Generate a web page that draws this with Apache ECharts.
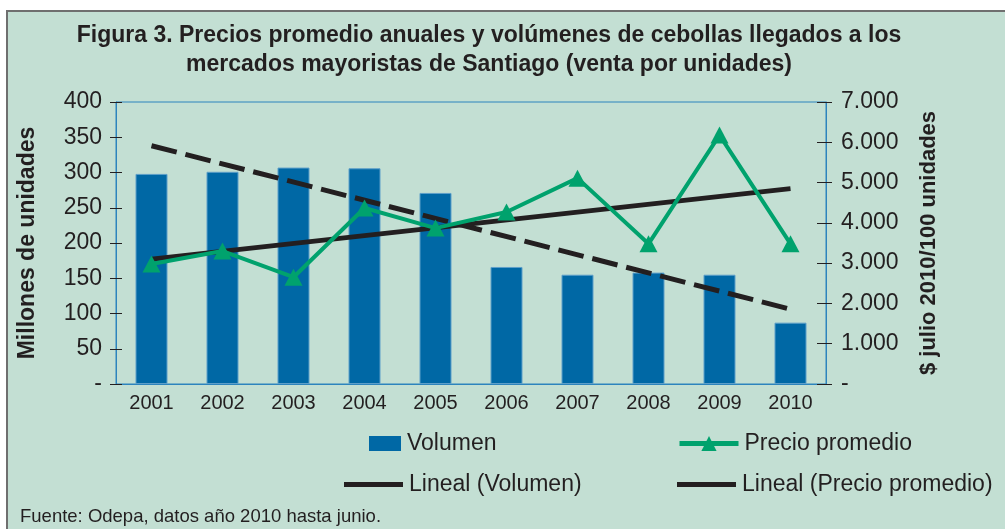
<!DOCTYPE html>
<html>
<head>
<meta charset="utf-8">
<script src="https://cdn.jsdelivr.net/npm/echarts@6/dist/echarts.min.js"></script>
<style>
  html, body { margin: 0; padding: 0; background: #fff; }
  #chart { width: 1005px; height: 529px; }
</style>
</head>
<body>
<div id="chart"></div>
<script>
// values
const years = ['2001', '2002', '2003', '2004', '2005', '2006', '2007', '2008', '2009', '2010'];
const volumen = [298, 301, 307, 306, 271, 166, 155, 158, 155, 87];
const precio = [2980, 3300, 2650, 4370, 3870, 4270, 5110, 3480, 6180, 3480];
// trend line end values (first and last year) as drawn in the figure
const volTrendEnds = [338, 106];
const precioTrendEnds = [3100, 4850];

const leftTicks = [0, 400, 50];
const rightTicks = [0, 7000, 1000];

const FONT = '"Liberation Sans", Arial, sans-serif';
const INK = '#231f20';
const BLUE = '#0068a5';
const GREEN = '#00a26d';
const AXIS_BLUE = '#2d84bd';

function endsOnly(ends) {
    return years.map((y, i) => i === 0 ? ends[0] : (i === years.length - 1 ? ends[1] : null));
}

function fmtMiles(v) {
    if (v === 0) return '-';
    return String(v).replace(/\B(?=(\d{3})+(?!\d))/g, '.');
}

const chart = echarts.init(document.getElementById('chart'));

const legendBase = {
    orient: 'horizontal',
    textStyle: { fontFamily: FONT, fontSize: 23, color: INK, padding: [0, 0, 0, 1] },
    selectedMode: false
};

chart.setOption({
    animation: false,
    backgroundColor: '#fff',
    graphic: [
        {
            type: 'rect', z: -10, silent: true,
            shape: { x: 7, y: 11, width: 1010, height: 530 },
            style: { fill: '#c3dfd3', stroke: '#6f6f6f', lineWidth: 2 }
        },
        {
            type: 'text', left: 20, top: 507,
            style: { text: 'Fuente: Odepa, datos año 2010 hasta junio.', fill: INK, font: '18.5px ' + FONT }
        }
    ],
    title: {
        text: 'Figura 3. Precios promedio anuales y volúmenes de cebollas llegados a los\nmercados mayoristas de Santiago (venta por unidades)',
        left: 484, top: 16, textAlign: 'center',
        textStyle: { fontFamily: FONT, fontSize: 23, fontWeight: 'bold', color: INK, lineHeight: 29 }
    },
    legend: [
        Object.assign({}, legendBase, {
            left: 364, top: 427, itemWidth: 32, itemHeight: 15,
            itemStyle: { borderWidth: 0 },
            data: [{ name: 'Volumen', icon: 'rect' }]
        }),
        Object.assign({}, legendBase, {
            left: 339, top: 468, itemWidth: 59, itemHeight: 5,
            data: [{ name: 'Lineal (Volumen)', icon: 'rect', itemStyle: { color: INK } }]
        }),
        Object.assign({}, legendBase, {
            left: 672, top: 427, itemWidth: 59, itemHeight: 19,
            lineStyle: { width: 5 },
            data: ['Precio promedio']
        }),
        Object.assign({}, legendBase, {
            left: 672, top: 468, itemWidth: 59, itemHeight: 5,
            data: [{ name: 'Lineal (Precio promedio)', icon: 'rect', itemStyle: { color: INK } }]
        })
    ],
    grid: {
        left: 116, right: 179, top: 102, bottom: 145,
        show: true, borderColor: AXIS_BLUE, borderWidth: 1, backgroundColor: 'transparent'
    },
    xAxis: [
        {
            type: 'category', data: years,
            axisLine: { lineStyle: { color: AXIS_BLUE, width: 1 } },
            axisTick: { length: 7, lineStyle: { color: INK } },
            axisLabel: { fontFamily: FONT, fontSize: 20, color: INK, margin: 9 }
        },
        {
            type: 'category', data: years, position: 'bottom',
            axisLine: { show: false },
            axisTick: { inside: true, length: 7, lineStyle: { color: INK } },
            axisLabel: { show: false }
        }
    ],
    yAxis: [
        {
            type: 'value', min: leftTicks[0], max: leftTicks[1], interval: leftTicks[2],
            position: 'left',
            splitLine: { show: false },
            axisLine: { show: true, lineStyle: { color: AXIS_BLUE } },
            axisTick: { show: true, length: 6, lineStyle: { color: INK } },
            axisLabel: { fontFamily: FONT, fontSize: 23, color: INK, margin: 14, formatter: fmtMiles },
            name: 'Millones de unidades', nameLocation: 'middle', nameRotate: 90, nameGap: 77,
            nameTextStyle: { fontFamily: FONT, fontSize: 23, fontWeight: 'bold', color: INK }
        },
        {
            type: 'value', min: rightTicks[0], max: rightTicks[1], interval: rightTicks[2],
            position: 'right',
            splitLine: { show: false },
            axisLine: { show: true, lineStyle: { color: AXIS_BLUE } },
            axisTick: { show: true, length: 6, lineStyle: { color: INK } },
            axisLabel: { fontFamily: FONT, fontSize: 23, color: INK, margin: 15, formatter: fmtMiles },
            name: '$ julio 2010/100 unidades', nameLocation: 'middle', nameRotate: 90, nameGap: 92,
            nameTextStyle: { fontFamily: FONT, fontSize: 22, fontWeight: 'bold', color: INK }
        },
        {
            type: 'value', min: leftTicks[0], max: leftTicks[1], interval: leftTicks[2],
            position: 'left',
            splitLine: { show: false }, axisLine: { show: false }, axisLabel: { show: false },
            axisTick: { show: true, inside: true, length: 6, lineStyle: { color: INK } }
        },
        {
            type: 'value', min: rightTicks[0], max: rightTicks[1], interval: rightTicks[2],
            position: 'right',
            splitLine: { show: false }, axisLine: { show: false }, axisLabel: { show: false },
            axisTick: { show: true, inside: true, length: 9, lineStyle: { color: INK } }
        }
    ],
    series: [
        {
            name: 'Volumen', type: 'bar', yAxisIndex: 0, data: volumen,
            barWidth: 32, z: 1,
            itemStyle: { color: BLUE, borderColor: '#5d9fc9', borderWidth: 1 }
        },
        {
            name: 'Lineal (Volumen)', type: 'line', yAxisIndex: 0, data: endsOnly(volTrendEnds),
            connectNulls: true, showSymbol: false, symbol: 'none', z: 3,
            lineStyle: { color: INK, width: 5, type: [26, 9], cap: 'butt' },
            itemStyle: { color: INK }
        },
        {
            name: 'Lineal (Precio promedio)', type: 'line', yAxisIndex: 1, data: endsOnly(precioTrendEnds),
            connectNulls: true, showSymbol: false, symbol: 'none', z: 3,
            lineStyle: { color: INK, width: 5 },
            itemStyle: { color: INK }
        },
        {
            name: 'Precio promedio', type: 'line', yAxisIndex: 1, data: precio,
            symbol: 'triangle', symbolSize: [18, 17], z: 4,
            lineStyle: { color: GREEN, width: 4 },
            itemStyle: { color: GREEN }
        }
    ]
});
</script>
</body>
</html>
